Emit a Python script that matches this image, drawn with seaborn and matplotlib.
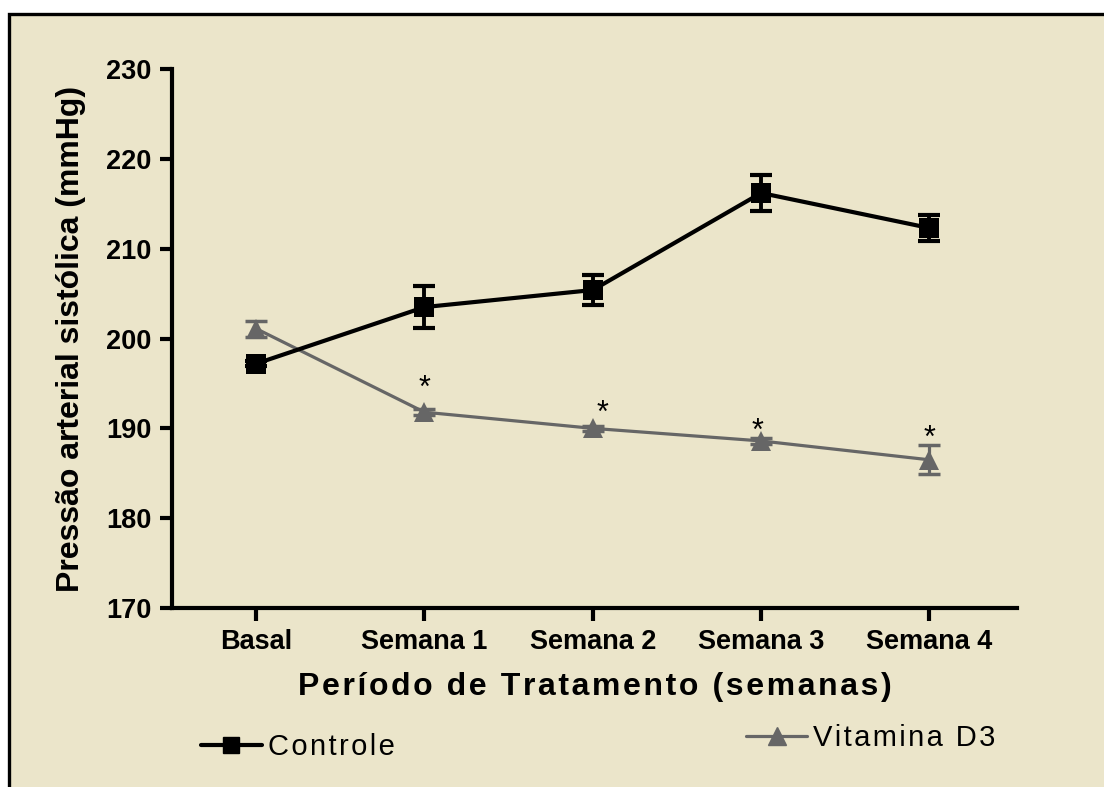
import numpy as np
import pandas as pd
import matplotlib
matplotlib.use('Agg')
import matplotlib.pyplot as plt
from matplotlib.patches import Rectangle
from matplotlib.lines import Line2D
import seaborn as sns

# dados
periodos = ['Basal', 'Semana 1', 'Semana 2', 'Semana 3', 'Semana 4']
controle_media = [197.2, 203.5, 205.4, 216.2, 212.3]
controle_epm = [0.3, 2.3, 1.7, 2.0, 1.4]
vitd_media = [201.1, 191.8, 190.0, 188.6, 186.5]
vitd_epm = [0.9, 0.3, 0.3, 0.3, 1.6]
# posicao dos asteriscos (significancia) em relacao a Vitamina D3
ast_periodo = ['Semana 1', 'Semana 2', 'Semana 3', 'Semana 4']
ast_y = [194.4, 191.6, 189.6, 188.8]
ast_dx = [0.0, 0.06, -0.02, 0.0]

bege = '#EBE5CA'
cinza = '#666666'

df = pd.DataFrame({
    'periodo': periodos * 2,
    'pressao': controle_media + vitd_media,
    'grupo': ['Controle'] * 5 + ['Vitamina D3'] * 5,
})

sns.set_style('ticks', {'text.color': 'black', 'axes.labelcolor': 'black',
                        'xtick.color': 'black', 'ytick.color': 'black', 'axes.edgecolor': 'black'})
plt.rcParams['font.family'] = ['Liberation Sans', 'DejaVu Sans']


def espacado(txt):
    # letras afastadas como no original
    return '\u200a'.join(txt)


fig = plt.figure(figsize=(11.04, 7.87), dpi=100, facecolor='white')
# moldura do quadro
fig.patches.append(Rectangle((0.0082, -0.1), 1.2, 0.9822 + 0.1, transform=fig.transFigure,
                             facecolor=bege, edgecolor='black', linewidth=2.4, zorder=-10))

ax = fig.add_axes([0.1558, 0.2274, 0.7654, 0.6849])
ax.set_facecolor('none')

ctrl = df[df['grupo'] == 'Controle']
vit = df[df['grupo'] == 'Vitamina D3']
sns.lineplot(data=vit, x='periodo', y='pressao', color=cinza, lw=2.3, marker='^',
             markersize=15, markeredgewidth=0, ax=ax, legend=False)
sns.lineplot(data=ctrl, x='periodo', y='pressao', color='black', lw=3, marker='s',
             markersize=14, markeredgewidth=0, ax=ax, legend=False)

pos = np.arange(len(periodos))
ax.errorbar(pos, vitd_media, yerr=vitd_epm, fmt='none', ecolor=cinza, elinewidth=2.3,
            capsize=8, capthick=2.5)
ax.errorbar(pos, controle_media, yerr=controle_epm, fmt='none', ecolor='black', elinewidth=2.8,
            capsize=8, capthick=3)

for p, y, dx in zip(ast_periodo, ast_y, ast_dx):
    ax.text(periodos.index(p) + dx, y, '*', ha='center', va='center', fontsize=22)

ax.set_xlim(-0.5, 4.52)
ax.set_ylim(170, 230)
ax.set_yticks(range(170, 231, 10))
ax.set_xticks(pos)
ax.set_xticklabels(periodos)
sns.despine(ax=ax)
for s in ['left', 'bottom']:
    ax.spines[s].set_linewidth(3)
ax.tick_params(axis='both', width=3, length=9, labelsize=19.5, pad=6)
for t in ax.get_xticklabels() + ax.get_yticklabels():
    t.set_fontweight('bold')

ax.set_xlabel(espacado('Período de Tratamento (semanas)'), fontsize=23, fontweight='bold', labelpad=12)
ax.set_ylabel('Pressão arterial sistólica (mmHg)', fontsize=23, fontweight='bold', labelpad=14)

# legendas separadas como no original
h1 = Line2D([], [], color='black', lw=3, marker='s', markersize=12)
h2 = Line2D([], [], color=cinza, lw=2.3, marker='^', markersize=13)
leg1 = fig.legend(handles=[h1], labels=[espacado('Controle')], loc='center left', frameon=False,
                  bbox_to_anchor=(0.158, 0.051), fontsize=21, handlelength=2.1, handletextpad=0.2)
leg2 = fig.legend(handles=[h2], labels=[espacado('Vitamina D3')], loc='center left', frameon=False,
                  bbox_to_anchor=(0.652, 0.062), fontsize=21, handlelength=2.1, handletextpad=0.2)

fig.savefig('out.png', dpi=100, facecolor='white')
